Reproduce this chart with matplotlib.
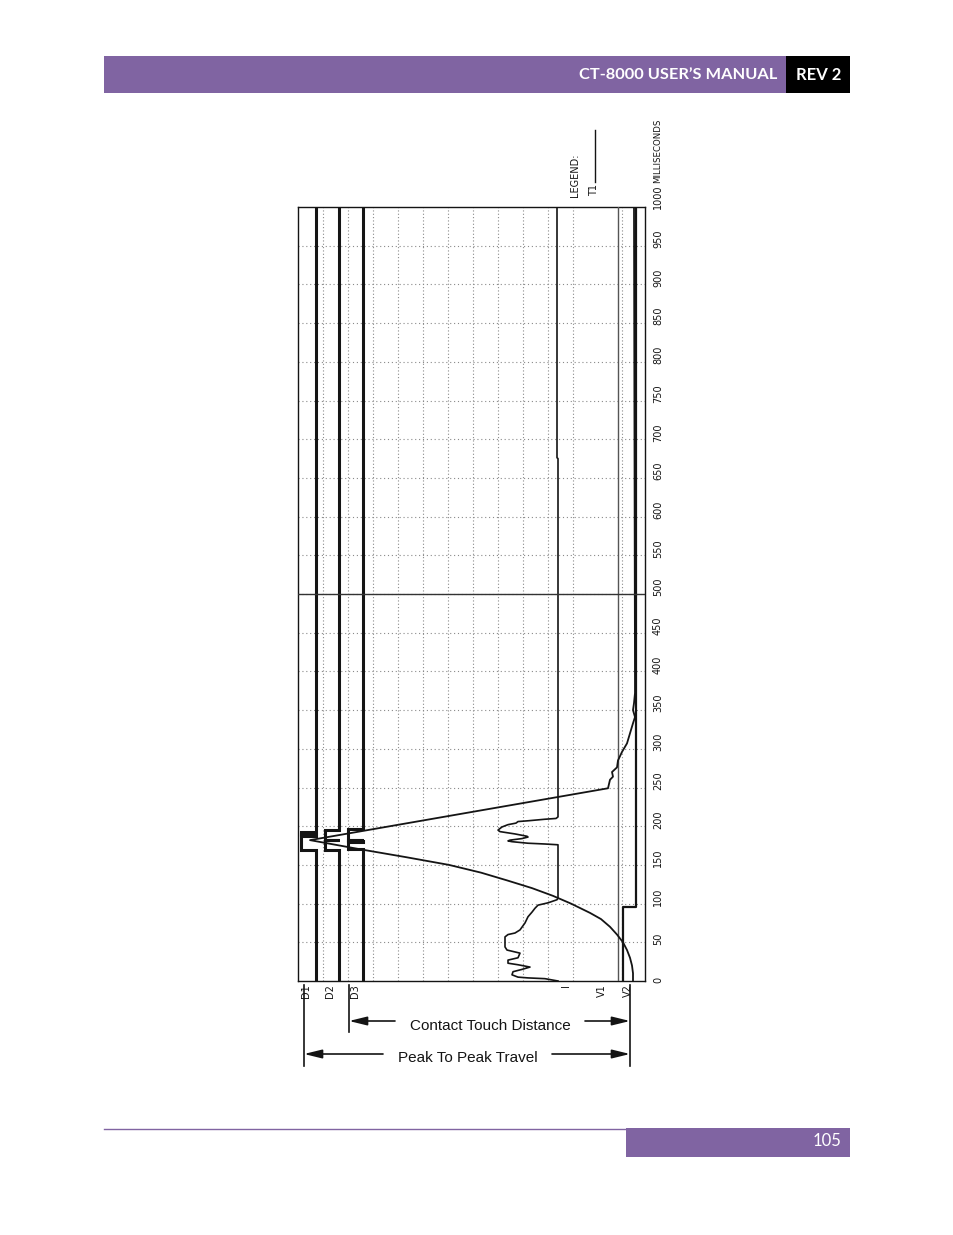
import numpy as np
import matplotlib
matplotlib.use("Agg")
import matplotlib.pyplot as plt
from matplotlib import font_manager
from matplotlib.transforms import blended_transform_factory
from matplotlib.lines import Line2D
from matplotlib.patches import Rectangle, FancyArrowPatch

# ---------------- data ----------------
time_ticks = [0, 50, 100, 150, 200, 250, 300, 350, 400, 450, 500,
              550, 600, 650, 700, 750, 800, 850, 900, 950, 1000]
channel_labels = ["D1", "D2", "D3", "I", "V1", "V2"]

# contact channels: transition times (ms) and state after each time (1 = open, 0 = closed)
d1_times = [0, 169, 187, 188, 189.5, 190.5, 192]
d1_states = [1, 0, 1, 0, 1, 0, 1]
d2_times = [0, 169, 182, 182.6, 195]
d2_states = [1, 0, 1, 0, 1]
d3_times = [0, 170, 180, 180.8, 181.6, 182.4, 197]
d3_states = [1, 0, 1, 0, 1, 0, 1]

# V channels
v1_times = [0]
v1_states = [0]
v2_times = [0, 96]
v2_states = [0, 1]

# coil current I: time (ms) and amplitude (chart units, drawn leftwards from baseline)
i_t = [0, 3, 4, 5, 8, 12, 15, 18, 21, 23, 27, 30, 36, 40, 44, 57, 60, 62, 66,
       75, 83, 89, 94, 98, 101, 105, 107, 176, 177, 178, 180, 181, 182, 184,
       186, 187, 190, 193, 195, 199, 202, 204, 206, 207, 209, 210, 212, 675,
       676, 1000]
i_amp = [0, 13, 30, 40, 46, 45, 36, 28, 40, 50, 50, 40, 38, 51, 53, 53, 50, 43,
         38, 33, 30, 26, 23, 20, 10, 1, 0, 0, 13, 30, 46, 50, 48, 36, 30, 31,
         43, 58, 60, 56, 50, 42, 40, 30, 13, 2, 0, 0, 1, 1]

# travel T1: time (ms) and position (chart units)
t1_t = [0, 10, 20, 30, 40, 50, 60, 70, 80, 88, 100, 110, 120, 130, 140, 150,
        160, 170, 182, 249, 260, 264, 270, 276, 285, 296, 307, 320, 333, 341,
        350, 359, 372, 389, 1000]
t1_pos = [335, 335, 334, 332, 329, 325, 319, 312, 303, 292, 273, 255, 234, 209,
          183, 151, 108, 63, 12, 310, 312, 315, 314, 319, 320, 324, 329, 332,
          335, 337, 335, 336, 337, 337, 336]

marker_time = 500

# ---------------- layout / style ----------------
W, H = 954, 1235
PURPLE = "#8064A2"
INK = "#141414"
GRID = "#8a8a8a"

def fx(px):
    return px / W

def fy(py):
    return 1 - py / H

names = {f.name for f in font_manager.fontManager.ttflist}
HEAD_FONT = "Lato" if "Lato" in names else "DejaVu Sans"
ARIAL = "Liberation Sans" if "Liberation Sans" in names else "DejaVu Sans"
NARROW = "Liberation Sans Narrow" if "Liberation Sans Narrow" in names else "DejaVu Sans"

fig = plt.figure(figsize=(W / 100, H / 100), dpi=100)
fig.patch.set_facecolor("white")

# header
fig.add_artist(Rectangle((fx(104), fy(93)), fx(786) - fx(104), fy(56) - fy(93),
                         transform=fig.transFigure, facecolor=PURPLE, edgecolor="none"))
fig.add_artist(Rectangle((fx(786), fy(93)), fx(850) - fx(786), fy(56) - fy(93),
                         transform=fig.transFigure, facecolor="black", edgecolor="none"))
fig.text(fx(777), fy(75), "CT-8000 USER\u2019S MANUAL", color="white", fontsize=11.8,
         fontweight="bold", family=HEAD_FONT, ha="right", va="center")
fig.text(fx(819), fy(75), "REV 2", color="white", fontsize=12,
         fontweight="bold", family=HEAD_FONT, ha="center", va="center")

# footer
fig.add_artist(Line2D([fx(104), fx(626)], [fy(1128.5), fy(1128.5)],
                      transform=fig.transFigure, color=PURPLE, lw=1.0))
fig.add_artist(Rectangle((fx(626), fy(1157)), fx(850) - fx(626), fy(1128) - fy(1157),
                         transform=fig.transFigure, facecolor=PURPLE, edgecolor="none"))
fig.text(fx(841), fy(1141), "105", color="white", fontsize=12,
         family=HEAD_FONT, ha="right", va="center")

# chart axes
ax = fig.add_axes([fx(298), fy(981), fx(645) - fx(298), fy(207) - fy(981)])
ax.set_xlim(0, 347)
ax.set_ylim(0, 1000)
ax.set_xticks([])
ax.set_yticks([])
for sp in ax.spines.values():
    sp.set_color(INK)
    sp.set_linewidth(1.0)

# dotted grid
for gx in [25, 50, 75, 100, 125, 150, 175, 200, 225, 250, 275, 324]:
    ax.axvline(gx, color=GRID, lw=0.8, ls=(0, (1, 2)), zorder=1)
for gt in time_ticks[1:-1]:
    ax.axhline(gt, color=GRID, lw=0.8, ls=(0, (1, 2.5)), zorder=1)


def step_path(times, states, t_end=1000):
    t = np.append(np.repeat(times, 2)[1:], t_end)
    s = np.repeat(states, 2)
    return t, s


# contact channels: (closed position, open position)
contact_specs = [
    (d1_times, d1_states, 3, 18),
    (d2_times, d2_states, 27, 41),
    (d3_times, d3_states, 50, 65),
]
for times, states, xc, xo in contact_specs:
    t, s = step_path(times, states)
    ax.plot(xc + s * (xo - xc), t, color=INK, lw=2.2, solid_joinstyle="miter", zorder=3)

# V channels
t, s = step_path(v1_times, v1_states)
ax.plot(320 + s * 0, t, color="#555555", lw=1.0, zorder=3)
t, s = step_path(v2_times, v2_states)
ax.plot(325 + s * 13, t, color=INK, lw=1.6, zorder=3)

# coil current
I_BASE = 260
ax.plot(I_BASE - np.array(i_amp), i_t, color=INK, lw=1.2, zorder=4)

# travel
ax.plot(t1_pos, t1_t, color=INK, lw=1.3, zorder=4)

# marker line
ax.axhline(marker_time, color="#333333", lw=1.0, zorder=5)

# time labels (right side, rotated)
bt = blended_transform_factory(ax.transAxes, ax.transData)
for tt in time_ticks:
    ax.text(1.0 + 8 / 347, tt - 3, f"{tt}", transform=bt, rotation=90,
            ha="left", va="bottom", fontsize=7, family=NARROW, color=INK)
ax.text(1.0 + 8 / 347, 1000 + 31, "MILLISECONDS", transform=bt, rotation=90,
        ha="left", va="bottom", fontsize=6.2, family=NARROW, color=INK)

# channel labels (bottom, rotated)
bx = blended_transform_factory(ax.transData, ax.transAxes)
label_x = [8, 32, 57, 268, 304, 330]
for lx, name in zip(label_x, channel_labels):
    ax.text(lx, -3 / 774, name, transform=bx, rotation=90, ha="center", va="top",
            fontsize=7, family=NARROW, color=INK)

# legend
fig.text(fx(575), fy(197), "LEGEND:", rotation=90, ha="center", va="bottom",
         fontsize=7, family=NARROW, color=INK)
fig.text(fx(594), fy(196), "T1", rotation=90, ha="center", va="bottom",
         fontsize=7, family=NARROW, color=INK)
fig.add_artist(Line2D([fx(595), fx(595)], [fy(182), fy(130)],
                      transform=fig.transFigure, color=INK, lw=1.0))

# dimension annotations
for x0, y1 in [(304, 1066), (349, 1032), (630, 1066)]:
    fig.add_artist(Line2D([fx(x0), fx(x0)], [fy(985), fy(y1)],
                          transform=fig.transFigure, color=INK, lw=1.2))

arrow_kw = dict(arrowstyle="-|>,head_length=0.9,head_width=0.22", color=INK, lw=1.2,
                shrinkA=0, shrinkB=0)
for (xs, xe, yy) in [(395, 349, 1021), (585, 630, 1021), (383, 304, 1054), (552, 630, 1054)]:
    fig.add_artist(FancyArrowPatch(
        (fx(xs), fy(yy)), (fx(xe), fy(yy)), transform=fig.transFigure,
        mutation_scale=12, **arrow_kw))

fig.text(fx(490), fy(1026), "Contact Touch Distance", ha="center", va="center",
         fontsize=11, family=ARIAL, color=INK)
fig.text(fx(468), fy(1058), "Peak To Peak Travel", ha="center", va="center",
         fontsize=11, family=ARIAL, color=INK)

fig.savefig("out.png", dpi=100)
